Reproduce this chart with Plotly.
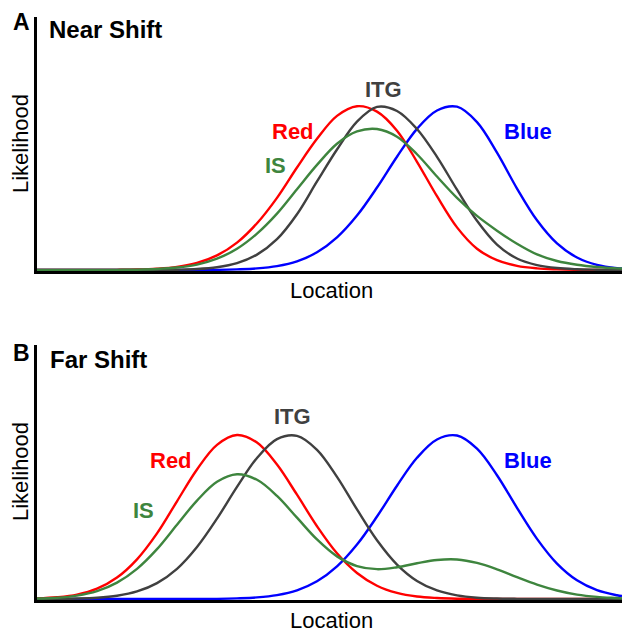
import plotly.graph_objects as go

# Location grid (arbitrary units across the axis)
location = [0, 20, 40, 60, 80, 100, 120, 140, 160, 180, 200, 220, 240, 260, 280,
            300, 320, 340, 360, 380, 400, 420, 440, 460, 480, 500, 520, 540, 560, 580, 585]

# Panel A: Near Shift
red_a = [0, 0, 0, 0, 0.001, 0.003, 0.008, 0.019, 0.043, 0.089, 0.167, 0.285, 0.44, 0.625, 0.80,
         0.94, 0.999, 0.966, 0.85, 0.66, 0.45, 0.26, 0.13, 0.06, 0.025, 0.01, 0.004, 0.001, 0, 0, 0]
blue_a = [0, 0, 0, 0, 0, 0, 0, 0, 0, 0.001, 0.004, 0.01, 0.024, 0.053, 0.108,
          0.199, 0.332, 0.503, 0.691, 0.861, 0.973, 0.996, 0.902, 0.716, 0.497, 0.303, 0.162, 0.076, 0.031, 0.011, 0.009]
itg_a = [0, 0, 0, 0, 0, 0, 0, 0.002, 0.006, 0.017, 0.042, 0.094, 0.188, 0.34, 0.54,
         0.735, 0.905, 0.995, 0.97, 0.86, 0.69, 0.49, 0.30, 0.155, 0.07, 0.03, 0.012, 0.005, 0.002, 0, 0]
is_a = [0, 0, 0, 0, 0.001, 0.002, 0.006, 0.015, 0.033, 0.069, 0.13, 0.222, 0.344, 0.493, 0.641,
        0.77, 0.845, 0.86, 0.813, 0.706, 0.57, 0.44, 0.33, 0.24, 0.16, 0.095, 0.055, 0.032, 0.018, 0.01, 0.009]

# Panel B: Far Shift
red_b = [0.004, 0.011, 0.027, 0.063, 0.131, 0.242, 0.40, 0.596, 0.79, 0.94, 1.0, 0.954, 0.82, 0.636, 0.444,
         0.279, 0.159, 0.081, 0.037, 0.015, 0.006, 0.002, 0.001, 0, 0, 0, 0, 0, 0, 0, 0]
blue_b = [0, 0, 0, 0, 0, 0, 0, 0, 0, 0.001, 0.004, 0.01, 0.024, 0.053, 0.108,
          0.199, 0.332, 0.503, 0.691, 0.861, 0.973, 0.997, 0.917, 0.755, 0.556, 0.367, 0.216, 0.114, 0.054, 0.023, 0.018]
itg_b = [0, 0.001, 0.003, 0.008, 0.02, 0.046, 0.097, 0.184, 0.317, 0.49, 0.684, 0.86, 0.975, 0.995, 0.91,
         0.745, 0.546, 0.358, 0.21, 0.11, 0.052, 0.022, 0.008, 0.003, 0.001, 0, 0, 0, 0, 0, 0]
is_b = [0.003, 0.008, 0.021, 0.048, 0.10, 0.184, 0.304, 0.453, 0.60, 0.715, 0.761, 0.727, 0.629, 0.496, 0.363,
        0.26, 0.201, 0.182, 0.194, 0.218, 0.238, 0.241, 0.22, 0.181, 0.133, 0.088, 0.052, 0.027, 0.013, 0.006, 0.004]

RED = "#ff0000"
BLUE = "#0000ff"
GRAY = "#404040"
GREEN = "#3e853e"
FONT = "Liberation Sans, Arial, Helvetica, sans-serif"

fig = go.Figure()

def add(y, color, xa, ya):
    fig.add_trace(go.Scatter(x=location, y=y, mode="lines", xaxis=xa, yaxis=ya,
                             line=dict(color=color, width=2.4, shape="spline", smoothing=1.0),
                             hoverinfo="skip", showlegend=False))

# draw order: blue, red, gray, green
add(blue_a, BLUE, "x", "y")
add(red_a, RED, "x", "y")
add(itg_a, GRAY, "x", "y")
add(is_a, GREEN, "x", "y")
add(blue_b, BLUE, "x2", "y2")
add(red_b, RED, "x2", "y2")
add(itg_b, GRAY, "x2", "y2")
add(is_b, GREEN, "x2", "y2")

W, H = 622, 632
xdom = [37 / W, 1.0]
axis_common = dict(showgrid=False, zeroline=False, showticklabels=False, ticks="",
                   showline=True, linecolor="black", linewidth=2.5, layer="below traces")

fig.update_layout(
    width=W, height=H,
    margin=dict(l=0, r=0, t=0, b=0),
    paper_bgcolor="white", plot_bgcolor="white",
    xaxis=dict(domain=xdom, range=[0, 585], anchor="y", **axis_common),
    yaxis=dict(domain=[1 - 271 / H, 1 - 17 / H], range=[-0.006, 1.543], anchor="x", **axis_common),
    xaxis2=dict(domain=xdom, range=[0, 585], anchor="y2", **axis_common),
    yaxis2=dict(domain=[1 - 600 / H, 1 - 345 / H], range=[-0.006, 1.549], anchor="x2", **axis_common),
)

def ann(text, px, py, size=22, color="black", bold=False, xanchor="center", angle=0):
    t = f"<b>{text}</b>" if bold else text
    fig.add_annotation(text=t, x=px / W, y=1 - py / H, xref="paper", yref="paper",
                       xanchor=xanchor, yanchor="middle", showarrow=False, textangle=angle,
                       font=dict(family=FONT, size=size, color=color))

# Panel A
ann("A", 21, 22.5, size=23, bold=True)
ann("Near Shift", 47, 29, size=24, bold=True, xanchor="left")
ann("Red", 292.5, 131.5, color=RED, bold=True)
ann("IS", 275, 165, color=GREEN, bold=True)
ann("ITG", 383.5, 89.5, color=GRAY, bold=True)
ann("Blue", 527.5, 131.5, color=BLUE, bold=True)
ann("Location", 331, 290.5)
ann("Likelihood", 20, 144, angle=-90)

# Panel B
ann("B", 21, 352.5, size=23, bold=True)
ann("Far Shift", 48, 359, size=24, bold=True, xanchor="left")
ann("Red", 171, 460, color=RED, bold=True)
ann("IS", 143, 510, color=GREEN, bold=True)
ann("ITG", 292, 416, color=GRAY, bold=True)
ann("Blue", 527.5, 460, color=BLUE, bold=True)
ann("Location", 331, 620)
ann("Likelihood", 20, 472, angle=-90)

fig.write_html("out.html", config={"displayModeBar": False},
               post_script="document.body.style.margin='0';document.body.style.padding='0';")
